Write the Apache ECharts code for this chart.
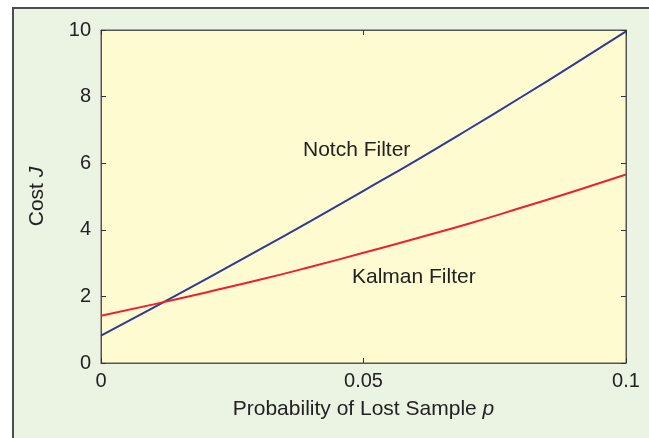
<!DOCTYPE html>
<html>
<head>
<meta charset="utf-8">
<script src="https://cdn.jsdelivr.net/npm/echarts@6/dist/echarts.min.js"></script>
<style>
html,body{margin:0;padding:0;background:#ffffff;width:649px;height:438px;overflow:hidden;}
#frame{position:absolute;left:12px;top:7px;width:660px;height:460px;background:#ebf3e3;border-left:2px solid #4d4d4d;border-top:2px solid #4d4d4d;}
#chart{position:absolute;left:0;top:0;width:649px;height:438px;}
</style>
</head>
<body>
<div id="frame"></div>
<div id="chart"></div>
<script>
var pValues   = [0, 0.01, 0.02, 0.03, 0.04, 0.05, 0.06, 0.07, 0.08, 0.09, 0.1];
var notchCost = [0.82, 1.66, 2.52, 3.39, 4.27, 5.17, 6.08, 7.02, 7.98, 8.96, 9.96];
var kalmanCost = [1.42, 1.76, 2.12, 2.49, 2.89, 3.31, 3.74, 4.18, 4.66, 5.15, 5.66];
var xTicks = [0, 0.05, 0.1];
var yTicks = [0, 2, 4, 6, 8, 10];
var seriesNames = ['Notch Filter', 'Kalman Filter'];

function pairs(xs, ys){ return xs.map(function(x,i){ return [x, ys[i]]; }); }
function tick(){ return {show:true, inside:true, length:5, lineStyle:{color:'#333', width:1}}; }
function line(){ return {show:true, onZero:false, lineStyle:{color:'#555', width:1}}; }

var chart = echarts.init(document.getElementById('chart'), null, {renderer:'canvas'});
var font = 'Liberation Sans, Arial, Helvetica, sans-serif';
var option = {
  backgroundColor: 'transparent',
  animation: false,
  grid: {left:101, right:23, top:30, bottom:75, show:true, backgroundColor:'#fefbd1', borderColor:'#555', borderWidth:1},
  xAxis: [{
    type:'value', min:0, max:0.1, interval:0.05, position:'bottom',
    axisLine: line(),
    axisTick: tick(),
    splitLine:{show:false},
    axisLabel:{color:'#222', fontSize:20, fontFamily:font, margin:8,
      formatter:function(v){ return xTicks.indexOf(Math.round(v*100)/100) >= 0 ? String(Math.round(v*100)/100) : ''; }},
    name:'{a|Probability of Lost Sample }{b|p}', nameLocation:'middle', nameGap:36,
    nameTextStyle:{rich:{a:{fontSize:21, color:'#222', fontFamily:font}, b:{fontSize:21, color:'#222', fontFamily:font, fontStyle:'italic'}}}
  },{
    type:'value', min:0, max:0.1, interval:0.05, position:'top',
    axisLine: line(),
    axisTick: tick(), axisLabel:{show:false}, splitLine:{show:false}
  }],
  yAxis: [{
    type:'value', min:0, max:10, interval:2, position:'left',
    axisLine: line(),
    axisTick: tick(), splitLine:{show:false},
    axisLabel:{color:'#222', fontSize:20, fontFamily:font, margin:10,
      formatter:function(v){ return yTicks.indexOf(v) >= 0 ? String(v) : ''; }},
    name:'{a|Cost }{b|J}', nameLocation:'middle', nameGap:53,
    nameTextStyle:{rich:{a:{fontSize:21, color:'#222', fontFamily:font}, b:{fontSize:21, color:'#222', fontFamily:font, fontStyle:'italic'}}}
  },{
    type:'value', min:0, max:10, interval:2, position:'right',
    axisLine: line(),
    axisTick: tick(), axisLabel:{show:false}, splitLine:{show:false}
  }],
  series: [
    {name:seriesNames[0], type:'line', data:pairs(pValues, notchCost), smooth:true, showSymbol:false, symbol:'none',
     lineStyle:{color:'#2e3a96', width:2}},
    {name:seriesNames[1], type:'line', data:pairs(pValues, kalmanCost), smooth:true, showSymbol:false, symbol:'none',
     lineStyle:{color:'#ee2030', width:2}}
  ],
  graphic: [
    {type:'text', left:303, top:140, style:{text:seriesNames[0], fontSize:21, fill:'#222', fontFamily:font}},
    {type:'text', left:352, top:267, style:{text:seriesNames[1], fontSize:21, fill:'#222', fontFamily:font}}
  ]
};
chart.setOption(option);
</script>
</body>
</html>
